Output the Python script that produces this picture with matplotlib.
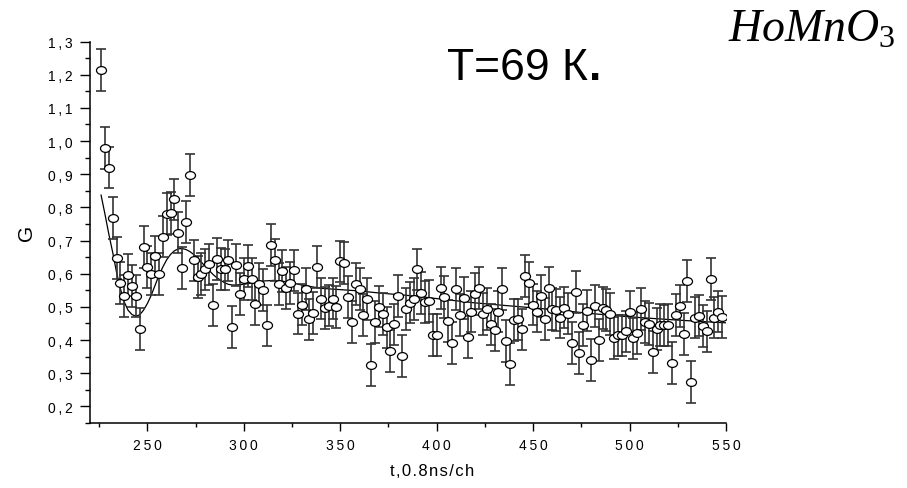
import matplotlib

matplotlib.use("Agg")
import matplotlib.pyplot as plt
from matplotlib.path import Path
from matplotlib.transforms import Affine2D
from matplotlib.ticker import MultipleLocator, FuncFormatter

# channel numbers of the measured points
T_CH = [
    226, 228, 230, 232, 234, 236, 238, 240, 242, 244, 246, 248, 250, 252, 254, 256,
    258, 260, 262, 264, 266, 268, 270, 272, 274, 276, 278, 280, 282, 284, 286, 288,
    290, 292, 294, 296, 298, 300, 302, 304, 306, 308, 310, 312, 314, 316, 318, 320,
    322, 324, 326, 328, 330, 332, 334, 336, 338, 340, 342, 344, 346, 348, 350, 352,
    354, 356, 358, 360, 362, 364, 366, 368, 370, 372, 374, 376, 378, 380, 382, 384,
    386, 388, 390, 392, 394, 396, 398, 400, 402, 404, 406, 408, 410, 412, 414, 416,
    418, 420, 422, 424, 426, 428, 430, 432, 434, 436, 438, 440, 442, 444, 446, 448,
    450, 452, 454, 456, 458, 460, 462, 464, 466, 468, 470, 472, 474, 476, 478, 480,
    482, 484, 486, 488, 490, 492, 494, 496, 498, 500, 502, 504, 506, 508, 510, 512,
    514, 516, 518, 520, 522, 524, 526, 528, 530, 532, 534, 536, 538, 540, 542, 544,
    546, 548,
]
G_VAL = [
    1.215, 0.980, 0.920, 0.768, 0.648, 0.573, 0.532, 0.595, 0.563, 0.533, 0.433, 0.680, 0.620, 0.599, 0.652, 0.599,
    0.712, 0.780, 0.784, 0.824, 0.724, 0.618, 0.756, 0.898, 0.640, 0.590, 0.600, 0.613, 0.628, 0.505, 0.645, 0.615,
    0.613, 0.640, 0.440, 0.627, 0.540, 0.583, 0.623, 0.583, 0.508, 0.570, 0.550, 0.444, 0.686, 0.642, 0.570, 0.607,
    0.557, 0.571, 0.610, 0.480, 0.507, 0.555, 0.462, 0.481, 0.620, 0.525, 0.496, 0.504, 0.525, 0.500, 0.637, 0.633,
    0.530, 0.454, 0.568, 0.554, 0.475, 0.523, 0.326, 0.455, 0.501, 0.479, 0.438, 0.368, 0.447, 0.532, 0.353, 0.494,
    0.513, 0.523, 0.613, 0.543, 0.515, 0.518, 0.416, 0.416, 0.558, 0.530, 0.458, 0.390, 0.555, 0.476, 0.528, 0.410,
    0.486, 0.538, 0.557, 0.478, 0.493, 0.447, 0.430, 0.486, 0.553, 0.396, 0.329, 0.460, 0.462, 0.432, 0.593, 0.572,
    0.507, 0.486, 0.533, 0.464, 0.556, 0.494, 0.491, 0.468, 0.498, 0.480, 0.392, 0.545, 0.361, 0.446, 0.489, 0.339,
    0.503, 0.401, 0.497, 0.490, 0.478, 0.406, 0.414, 0.414, 0.426, 0.486, 0.405, 0.422, 0.494, 0.454, 0.448, 0.365,
    0.434, 0.446, 0.444, 0.446, 0.332, 0.476, 0.502, 0.419, 0.577, 0.274, 0.468, 0.474, 0.442, 0.426, 0.585, 0.468,
    0.486, 0.470,
]
G_ERR = 0.063

# fitted curve
FIT_T = [
    226, 228, 230, 232, 234, 236, 238, 240, 242, 244, 246, 248, 250, 252, 254, 256,
    258, 260, 262, 264, 266, 268, 270, 272, 274, 276, 278, 280, 282, 284, 286, 288,
    290, 292, 294, 296, 300, 305, 310, 316, 322, 330, 340, 350, 360, 370, 380, 390,
    400, 420, 440, 460, 480, 500, 520, 540, 550,
]
FIT_G = [
    0.837, 0.780, 0.720, 0.665, 0.605, 0.555, 0.515, 0.490, 0.477, 0.472, 0.476, 0.490, 0.510, 0.535, 0.565, 0.595,
    0.620, 0.642, 0.658, 0.669, 0.675, 0.676, 0.673, 0.667, 0.658, 0.647, 0.635, 0.622, 0.610, 0.598, 0.588, 0.580,
    0.573, 0.568, 0.566, 0.566, 0.568, 0.573, 0.578, 0.580, 0.576, 0.566, 0.556, 0.552, 0.548, 0.542, 0.537, 0.532,
    0.525, 0.512, 0.502, 0.492, 0.480, 0.470, 0.462, 0.455, 0.452,
]

plt.rcParams.update(
    {
        "font.family": ["Liberation Sans", "DejaVu Sans"],
        "mathtext.fontset": "custom",
        "mathtext.rm": "Liberation Serif",
        "mathtext.it": "Liberation Serif:italic",
    }
)


def spaced(s, sp="\u2009"):
    # the original labels are letter-spaced
    return sp.join(s)


# open ellipse marker (wider than tall)
ellipse = Path.unit_circle().transformed(Affine2D().scale(1.0, 0.78))

fig = plt.figure(figsize=(9.07, 4.89), dpi=100)
ax = fig.add_axes([89.5 / 907, 1 - 424 / 489, (726 - 89.5) / 907, (424 - 42.5) / 489])

ax.plot(FIT_T, FIT_G, color="black", lw=0.9, zorder=2)
ax.errorbar(T_CH, G_VAL, yerr=G_ERR, fmt="none", ecolor="#333333", elinewidth=1.2,
            capsize=3.4, capthick=1.2, zorder=3)
ax.plot(T_CH, G_VAL, ls="none", marker=ellipse, ms=7.2, mfc="white", mec="black",
        mew=0.9, zorder=4)

ax.set_xlim(220, 550)
ax.set_ylim(0.15, 1.3)
for side in ("top", "right"):
    ax.spines[side].set_visible(False)
for side in ("left", "bottom"):
    ax.spines[side].set_linewidth(1.1)

ax.xaxis.set_major_locator(MultipleLocator(50))
ax.xaxis.set_minor_locator(MultipleLocator(25))
ax.xaxis.set_major_formatter(FuncFormatter(lambda v, _: spaced(f"{v:.0f}")))
ax.yaxis.set_major_locator(MultipleLocator(0.1))
ax.yaxis.set_minor_locator(MultipleLocator(0.05))
ax.yaxis.set_major_formatter(FuncFormatter(lambda v, _: spaced(f"{v:.1f}".replace(".", ","))))

ax.tick_params(axis="x", which="major", length=6, width=1.0, labelsize=10, pad=5)
ax.tick_params(axis="x", which="minor", length=3, width=1.0)
ax.tick_params(axis="y", which="major", length=7, width=1.0, labelsize=10, pad=5)
ax.tick_params(axis="y", which="minor", length=3.5, width=1.0)

ax.set_xlabel(spaced("t,0.8ns/ch", "\u200a"), fontsize=12)
ax.xaxis.set_label_coords((432 - 89.5) / (726 - 89.5), -0.105)
ax.set_ylabel("G", fontsize=15)
ax.yaxis.set_label_coords((36 - 89.5) / (726 - 89.5), 0.5)

fig.text(447 / 907, 1 - 80 / 489, "T=69 К", fontsize=32, ha="left", va="baseline")
fig.text(589 / 907, 1 - 80 / 489, ".", fontsize=32, fontweight="bold", ha="left", va="baseline")
fig.text(728 / 907, 1 - 42 / 489, r"$HoMnO_{\mathrm{3}}$", fontsize=33, ha="left", va="baseline")

fig.savefig("out.png", dpi=100)
